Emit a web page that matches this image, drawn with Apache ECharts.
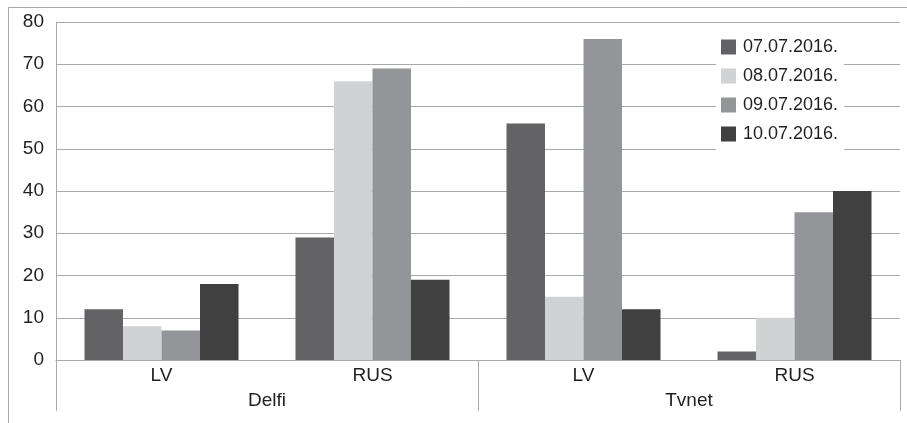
<!DOCTYPE html>
<html>
<head>
<meta charset="utf-8">
<script src="https://cdn.jsdelivr.net/npm/echarts@6/dist/echarts.min.js"></script>
<style>
  html, body { margin: 0; padding: 0; background: #fff; }
  #chart { width: 907px; height: 423px; }
</style>
</head>
<body>
<div id="chart"></div>
<script>
// Language split per portal, four consecutive days
const categories = ['LV', 'RUS', 'LV', 'RUS'];
const portals = ['Delfi', 'Tvnet'];
const dates = ['07.07.2016.', '08.07.2016.', '09.07.2016.', '10.07.2016.'];
const day0707 = [12, 29, 56, 2];
const day0807 = [8, 66, 15, 10];
const day0907 = [7, 69, 76, 35];
const day1007 = [18, 19, 12, 40];
const yTicks = { min: 0, max: 80, step: 10 };

const colors = ['#636365', '#d1d2d4', '#939598', '#404041'];
const seriesValues = [day0707, day0807, day0907, day1007];
const font = '"Liberation Sans", Arial, sans-serif';
const textColor = '#231f20';
const lineColor = '#a7a9ac';

const chart = echarts.init(document.getElementById('chart'));
chart.setOption({
  animation: false,
  backgroundColor: '#fff',
  textStyle: { fontFamily: font, color: textColor },
  graphic: [{
    type: 'rect',
    shape: { x: 8.5, y: 7.5, width: 1000, height: 1000 },
    style: { fill: 'none', stroke: lineColor, lineWidth: 1 },
    silent: true,
    z: -1
  }],
  grid: { left: 56, right: 7, top: 22, bottom: 63 },
  legend: {
    data: dates,
    orient: 'vertical',
    left: 716,
    top: 30,
    padding: [8, 6, 8, 5],
    backgroundColor: '#fff',
    itemWidth: 15,
    itemHeight: 15,
    itemGap: 11,
    icon: 'rect',
    textStyle: { fontSize: 18, color: textColor, fontFamily: font, padding: [0, 0, 0, 2] },
    z: 10
  },
  xAxis: [{
    type: 'category',
    data: categories,
    position: 'bottom',
    axisLine: { show: false },
    axisTick: { show: false },
    axisLabel: { fontSize: 19, color: textColor, margin: 6, fontFamily: font }
  }, {
    type: 'category',
    data: portals,
    position: 'bottom',
    axisLine: { show: true, lineStyle: { color: lineColor, width: 1 } },
    axisTick: { show: true, length: 51, interval: 0, lineStyle: { color: lineColor, width: 1 } },
    axisLabel: { fontSize: 19, color: textColor, margin: 31, fontFamily: font }
  }],
  yAxis: {
    type: 'value',
    min: yTicks.min,
    max: yTicks.max,
    interval: yTicks.step,
    axisLine: { show: true, lineStyle: { color: lineColor, width: 1 } },
    axisTick: { show: false },
    splitLine: { show: true, lineStyle: { color: lineColor, width: 1 } },
    axisLabel: { fontSize: 19, color: textColor, margin: 12, fontFamily: font }
  },
  series: dates.map((d, i) => ({
    name: d,
    type: 'bar',
    xAxisIndex: 0,
    data: seriesValues[i],
    barGap: '0%',
    barCategoryGap: '27%',
    itemStyle: { color: colors[i] }
  }))
});
</script>
</body>
</html>
